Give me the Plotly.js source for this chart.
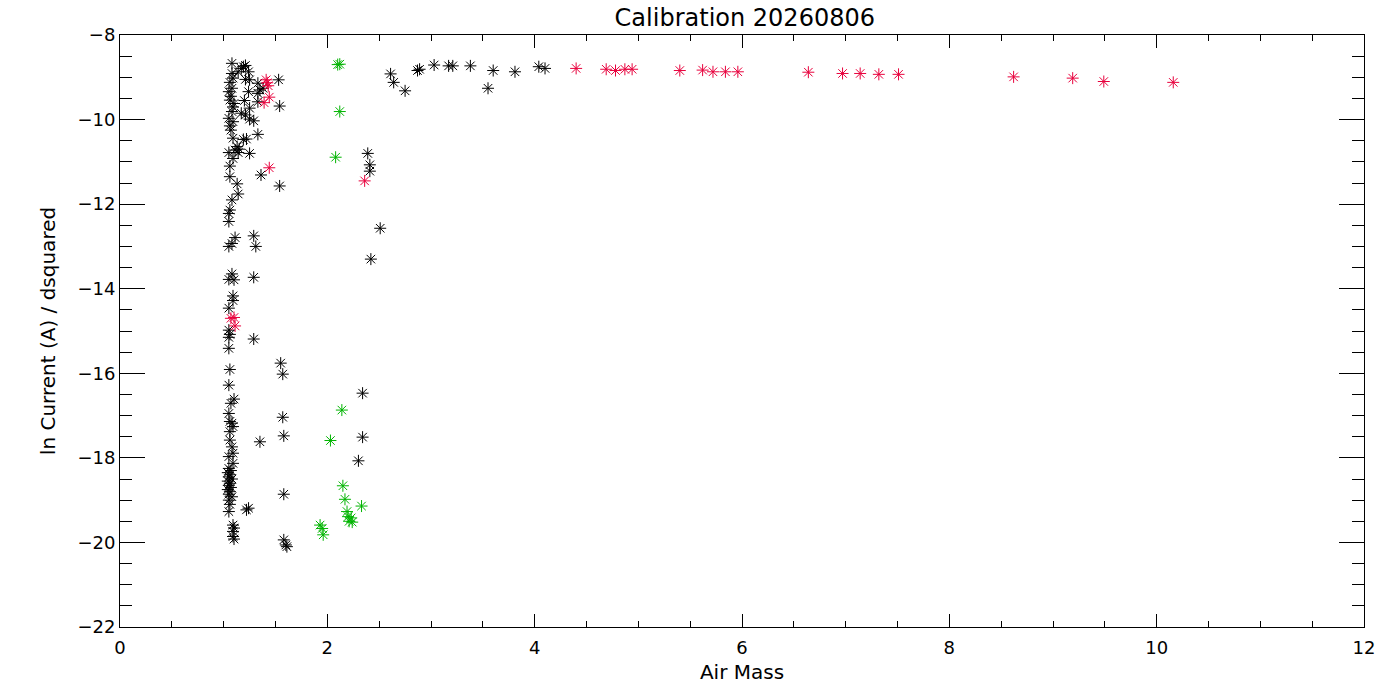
<!DOCTYPE html>
<html>
<head>
<meta charset="utf-8">
<script src="https://cdn.plot.ly/plotly-3.0.1.min.js"></script>
<style>html,body{margin:0;padding:0;background:#fff;}#plot{width:1400px;height:700px;}</style>
</head>
<body>
<div id="plot"></div>
<script>
// Black series (air mass, ln current / dsquared)
const blackX = [1.08,1.17,1.19,1.14,1.24,1.21,1.08,1.09,1.21,1.25,1.33,1.53,1.08,1.05,1.24,1.35,1.38,1.33,1.06,1.20,1.33,1.54,1.09,1.25,1.08,1.17,1.21,1.05,1.25,1.29,1.09,1.06,1.07,1.06,1.10,1.07,1.33,1.09,1.19,1.22,1.13,1.05,1.14,1.11,1.15,1.25,1.09,1.06,1.36,1.06,1.13,1.54,1.14,1.08,1.06,1.05,1.05,1.11,1.29,1.08,1.05,1.31,1.08,1.05,1.10,1.29,1.09,1.09,1.05,1.05,1.06,1.05,1.29,1.05,1.55,1.57,1.06,1.05,1.10,1.07,1.05,1.57,1.06,1.08,1.09,1.06,1.35,1.58,1.06,1.08,1.09,1.05,1.09,1.05,1.07,1.04,1.06,1.05,1.08,1.04,1.06,1.05,1.07,1.04,1.06,1.05,1.08,1.58,1.24,1.22,1.05,1.06,1.05,1.09,1.10,1.09,1.09,1.10,1.58,1.60,1.61,
  2.61,2.64,2.75,2.87,2.89,3.03,3.17,3.21,3.38,3.55,3.60,3.81,4.04,4.10,2.39,2.41,2.41,2.51,2.42,2.34,2.34,2.30];
const blackY = [-8.67,-8.79,-8.75,-8.87,-8.87,-8.72,-8.91,-9.02,-9.05,-9.06,-9.14,-9.06,-9.26,-9.34,-9.34,-9.30,-9.26,-9.38,-9.54,-9.55,-9.58,-9.68,-9.70,-9.73,-9.81,-9.85,-9.89,-9.97,-9.99,-10.03,-10.05,-10.15,-9.45,-9.12,-9.62,-10.25,-10.35,-10.44,-10.47,-10.46,-10.64,-10.78,-10.78,-10.72,-10.70,-10.80,-10.92,-11.10,-11.31,-11.35,-11.52,-11.57,-11.76,-11.90,-12.14,-12.22,-12.41,-12.79,-12.75,-12.93,-13.00,-13.00,-13.65,-13.78,-13.79,-13.73,-14.17,-14.28,-14.46,-14.98,-15.08,-15.15,-15.19,-15.41,-15.76,-16.02,-15.91,-16.28,-16.61,-16.71,-16.95,-17.04,-17.14,-17.18,-17.26,-17.38,-17.62,-17.48,-17.58,-17.74,-17.89,-17.97,-18.13,-18.25,-18.30,-18.35,-18.40,-18.45,-18.50,-18.55,-18.60,-18.65,-18.70,-18.75,-18.80,-18.86,-18.92,-18.86,-19.19,-19.23,-19.00,-19.10,-19.27,-19.59,-19.66,-19.74,-19.86,-19.92,-19.94,-20.06,-20.10,
  -8.92,-9.12,-9.32,-8.84,-8.81,-8.71,-8.73,-8.73,-8.73,-9.26,-8.84,-8.87,-8.75,-8.79,-10.80,-11.07,-11.22,-12.57,-13.30,-16.47,-17.51,-18.07];
// Red series
const redX = [1.41,1.42,1.43,1.44,1.39,1.44,2.36,1.07,1.10,1.11,4.40,4.69,4.78,4.87,4.94,5.40,5.62,5.72,5.84,5.96,6.64,6.97,7.14,7.32,7.51,8.62,9.19,9.49,10.16];
const redY = [-9.06,-9.13,-9.20,-9.47,-9.60,-11.14,-11.45,-14.70,-14.68,-14.88,-8.79,-8.81,-8.84,-8.81,-8.81,-8.84,-8.83,-8.87,-8.87,-8.87,-8.88,-8.91,-8.91,-8.93,-8.93,-8.99,-9.02,-9.10,-9.12];
// Green series
const greenX = [2.10,2.12,2.12,2.08,2.14,2.03,2.15,2.17,2.33,2.19,2.20,2.23,2.21,2.24,1.93,1.95,1.96];
const greenY = [-8.70,-8.69,-9.81,-10.89,-16.87,-17.59,-18.66,-18.98,-19.14,-19.27,-19.39,-19.42,-19.50,-19.52,-19.59,-19.67,-19.82];

const titleText = 'Calibration 20260806';
const xTitle = 'Air Mass';
const yTitle = 'ln Current (A) / dsquared';

function series(x, y, color) {
  return {
    x: x, y: y, type: 'scatter', mode: 'markers', showlegend: false, hoverinfo: 'skip',
    marker: {symbol: 'asterisk-open', size: 10, color: color, line: {color: color, width: 1}}
  };
}
const fam = 'DejaVu Sans, sans-serif';
const axisBase = {
  showline: true, linecolor: '#000', linewidth: 1, mirror: 'allticks',
  ticks: 'inside', tickcolor: '#000', tickwidth: 1, showgrid: false, zeroline: false,
  tickfont: {family: fam, size: 18, color: '#000'}
};
const layout = {
  width: 1400, height: 700,
  margin: {l: 120, r: 36, t: 35, b: 73},
  paper_bgcolor: '#fff', plot_bgcolor: '#fff',
  title: {text: titleText, font: {family: fam, size: 24, color: '#000'}, x: 0.532, xanchor: 'center', y: 0.975, yanchor: 'middle', yref: 'container'},
  xaxis: Object.assign({}, axisBase, {
    range: [0, 12], dtick: 2, tick0: 0, ticklen: 13, ticklabelstandoff: 4,
    minor: {dtick: 0.5, ticklen: 6, ticks: 'inside', tickcolor: '#000', showgrid: false},
    title: {text: xTitle, font: {family: fam, size: 20, color: '#000'}, standoff: 8}
  }),
  yaxis: Object.assign({}, axisBase, {
    range: [-22, -8], dtick: 2, tick0: 0, ticklen: 25,
    minor: {dtick: 0.5, ticklen: 12, ticks: 'inside', tickcolor: '#000', showgrid: false},
    title: {text: yTitle, font: {family: fam, size: 20, color: '#000'}, standoff: 16}
  })
};
Plotly.newPlot('plot', [series(blackX, blackY, '#000000'), series(redX, redY, '#e8003c'), series(greenX, greenY, '#00b400')], layout, {staticPlot: true, displayModeBar: false});
</script>
</body>
</html>
